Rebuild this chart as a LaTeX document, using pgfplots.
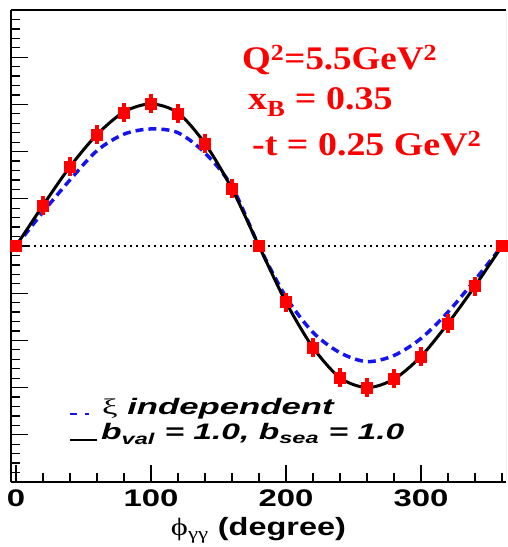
\documentclass[border=0pt]{standalone}
\usepackage{graphicx}
\usepackage{pgfplots}
\pgfplotsset{compat=1.18}
\usepackage{fontspec}
\setmainfont{Liberation Serif}
\setsansfont{Liberation Sans}
\newfontfamily\grkfont{Liberation Serif}
\definecolor{ptred}{RGB}{255,0,0}
\definecolor{ptblue}{RGB}{20,20,240}

\pgfplotstableread{
x y e
0 0 0.12
20 0.85 0.2
40 1.68 0.2
60 2.36 0.2
80 2.83 0.2
100 3.02 0.2
120 2.81 0.2
140 2.17 0.2
160 1.21 0.2
180 0 0.12
200 -1.19 0.2
220 -2.15 0.2
240 -2.79 0.2
260 -3.00 0.2
280 -2.81 0.2
300 -2.34 0.2
320 -1.64 0.2
340 -0.85 0.2
360 0 0.12
}\pointsdata

\pgfplotstableread{
x y
0 0
20 0.86
40 1.68
60 2.36
80 2.84
100 3.01
120 2.82
140 2.17
160 1.21
180 0
200 -1.19
220 -2.15
240 -2.79
260 -3.00
280 -2.82
300 -2.34
320 -1.64
340 -0.85
360 0
}\blackdata

\pgfplotstableread{
x y
0 0
20 0.72
40 1.40
60 2.02
80 2.37
100 2.48
120 2.40
140 1.97
160 1.26
180 0
200 -1.08
220 -1.83
240 -2.26
260 -2.45
280 -2.32
300 -1.96
320 -1.40
340 -0.72
360 0
}\bluedata

\begin{document}
\begin{tikzpicture}
\begin{axis}[
  at={(0pt,0pt)}, anchor=south west,
  scale only axis, width=495pt, height=472pt,
  xmin=-3.7, xmax=363, ymin=-5, ymax=5,
  axis x line*=bottom, axis y line*=left,
  axis line style={line width=2pt, black},
  tick align=inside,
  xtick={0,100,200,300},
  xticklabels={\scalebox{1.37}[1]{0},\scalebox{1.37}[1]{100},\scalebox{1.37}[1]{200},\scalebox{1.37}[1]{300}},
  minor xtick={20,40,60,80,120,140,160,180,220,240,260,280,320,340,360},
  ytick={-5,-4,...,5}, minor y tick num=4, yticklabels={},
  major tick length=17pt, minor tick length=9pt,
  every tick/.style={black, line width=1.3pt},
  xticklabel style={font=\sffamily\bfseries\fontsize{24}{24}\selectfont, inner sep=0pt, yshift=-8pt},
  xlabel={\scalebox{1.3}[1]{{\grkfont\mdseries ϕ}\textsubscript{\grkfont\mdseries γγ} (degree)}},
  xlabel style={font=\sffamily\bfseries\fontsize{25}{25}\selectfont, at={(rel axis cs:0.5,0)}, anchor=center, yshift=-48pt, inner sep=0pt},
]
\addplot[black, line width=1.5pt, dash pattern=on 2pt off 4pt] coordinates {(0,0) (360,0)};
\addplot[ptblue, line width=3.5pt, dash pattern=on 8pt off 5pt, smooth] table[x=x,y=y] {\bluedata};
\addplot[black, line width=3pt, smooth] table[x=x,y=y] {\blackdata};
\addplot[only marks, mark=square*, mark size=5.5pt, color=ptred,
  error bars/.cd, y dir=both, y explicit,
  error bar style={line width=3.5pt, ptred}, error mark=none]
  table[x=x, y=y, y error=e] {\pointsdata};
\draw[line width=2pt, black] (rel axis cs:0,1) -- (rel axis cs:1,1);
\draw[line width=0.8pt, black!35] (rel axis cs:1,0) -- (rel axis cs:1,1);
\end{axis}
% legend
\draw[ptblue, line width=2.6pt, dash pattern=on 7pt off 8pt] (59pt,68pt) -- ++(19pt,0pt);
\draw[black, line width=2.2pt] (59pt,42pt) -- ++(27pt,0pt);
\node[anchor=base west, inner sep=0pt, font=\sffamily\bfseries\itshape\fontsize{22.4}{22.4}\selectfont] at (91pt,67pt)
  {\scalebox{1.55}[1]{{\grkfont\mdseries\upshape ξ} independent}};
\node[anchor=base west, inner sep=0pt, font=\sffamily\bfseries\itshape\fontsize{22.4}{22.4}\selectfont] at (90pt,42pt)
  {\scalebox{1.5}[1]{b\textsubscript{val} = 1.0, b\textsubscript{sea} = 1.0}};
% annotation
\node[anchor=base west, inner sep=0pt, text=ptred, font=\bfseries\fontsize{33}{33}\selectfont] at (231pt,412pt)
  {\scalebox{1.12}[1]{Q\textsuperscript{2}=5.5GeV\textsuperscript{2}}};
\node[anchor=base west, inner sep=0pt, text=ptred, font=\bfseries\fontsize{33}{33}\selectfont] at (237pt,372pt)
  {\scalebox{1.15}[1]{x\textsubscript{B} = 0.35}};
\node[anchor=base west, inner sep=0pt, text=ptred, font=\bfseries\fontsize{33}{33}\selectfont] at (241pt,326pt)
  {\scalebox{1.15}[1]{-t = 0.25 GeV\textsuperscript{2}}};
\pgfresetboundingbox
\path (-11pt,-65pt) rectangle (496pt,482pt);
\end{tikzpicture}
\end{document}
